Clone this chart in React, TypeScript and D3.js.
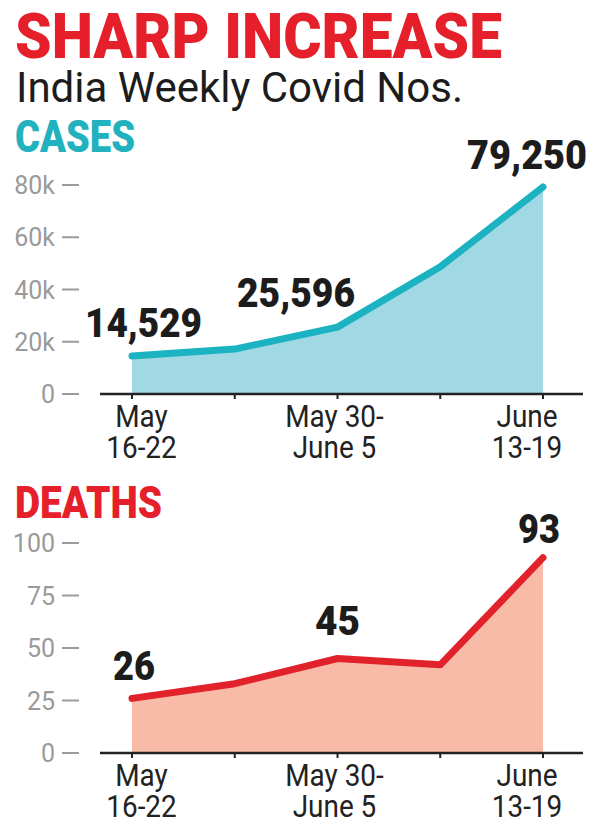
import React from "react";
import * as d3 from "d3";

// ---- data ----
const weeks = ["May 16-22", "May 23-29", "May 30-June 5", "June 6-12", "June 13-19"];
const cases = [14529, 17200, 25596, 48700, 79250];
const deaths = [26, 33, 45, 42, 93];
const caseTicks = [0, 20000, 40000, 60000, 80000];
const caseTickLabels = ["0", "20k", "40k", "60k", "80k"];
const deathTicks = [0, 25, 50, 75, 100];
const deathTickLabels = ["0", "25", "50", "75", "100"];
const xLabelIndex = [0, 2, 4];
const xLabelLines = [["May", "16-22"], ["May 30-", "June 5"], ["June", "13-19"]];
const caseLabels = ["14,529", "25,596", "79,250"];
const caseLabelIndex = [0, 2, 4];
const deathLabels = ["26", "45", "93"];
const deathLabelIndex = [0, 2, 4];

// ---- layout (not data) ----
const W = 600;
const H = 827;
const FONT = "Roboto, 'Noto Sans', sans-serif";
const xLabelDx = [9.5, -3, -16];
const caseLabelOff = [{ dx: 11.5, dy: -19, w: 117 }, { dx: -41.5, dy: -20, w: 118 }, { dx: -16, dy: -18, w: 120 }];
const deathLabelOff = [{ dx: 2, dy: -18, w: 42 }, { dx: 0, dy: -24, w: 45 }, { dx: -4, dy: -15, w: 42 }];

const x = d3.scaleLinear().domain([0, weeks.length - 1]).range([132, 543]);

type PanelProps = {
  values: number[];
  domainMax: number;
  yTop: number;
  yBase: number;
  ticks: number[];
  tickLabels: string[];
  lineColor: string;
  fillColor: string;
  labels: string[];
  labelIndex: number[];
  labelOff: { dx: number; dy: number; w: number }[];
};

function Panel(p: PanelProps) {
  const y = d3.scaleLinear().domain([0, p.domainMax]).range([p.yBase, p.yTop]);
  const idx = p.values.map((_, i) => i);
  const line = d3.line<number>().x((i) => x(i)).y((i) => y(p.values[i]));
  const area = d3
    .area<number>()
    .x((i) => x(i))
    .y0(y(0))
    .y1((i) => y(p.values[i]));
  return (
    <g>
      <path d={area(idx) || ""} fill={p.fillColor} />
      <path
        d={line(idx) || ""}
        fill="none"
        stroke={p.lineColor}
        strokeWidth={7}
        strokeLinecap="round"
        strokeLinejoin="round"
      />
      {/* y ticks */}
      {p.ticks.map((t, i) => (
        <g key={"t" + i}>
          <line x1={62} x2={79} y1={y(t)} y2={y(t)} stroke="#9b9b9b" strokeWidth={2} />
          <text
            x={55}
            y={y(t) + 9}
            textAnchor="end"
            fontFamily={FONT}
            fontSize={25}
            fill="#9a9a9a"
          >
            {p.tickLabels[i]}
          </text>
        </g>
      ))}
      {/* x axis */}
      <line x1={100} x2={583} y1={y(0)} y2={y(0)} stroke="#222" strokeWidth={2.5} />
      {idx.map((i) => (
        <line key={"xt" + i} x1={x(i)} x2={x(i)} y1={y(0)} y2={y(0) + 5} stroke="#222" strokeWidth={2} />
      ))}
      {xLabelIndex.map((wi, k) => (
        <g key={"xl" + k} transform={`translate(${x(wi) + xLabelDx[k]},${y(0)}) scale(0.9,1)`}>
          {xLabelLines[k].map((ln, j) => (
            <text
              key={j}
              x={0}
              y={33 + j * 31}
              textAnchor="middle"
              fontFamily={FONT}
              fontSize={31}
              fill="#222"
            >
              {ln}
            </text>
          ))}
        </g>
      ))}
      {/* value labels */}
      {p.labelIndex.map((wi, k) => (
        <text
          key={"vl" + k}
          x={x(wi) + p.labelOff[k].dx}
          y={y(p.values[wi]) + p.labelOff[k].dy}
          textAnchor="middle"
          fontFamily={FONT}
          fontWeight={900}
          fontSize={40}
          fill="#1c1c1c"
          textLength={p.labelOff[k].w}
          lengthAdjust="spacingAndGlyphs"
        >
          {p.labels[k]}
        </text>
      ))}
    </g>
  );
}

export default function App() {
  return (
    <svg
      width={W}
      height={H}
      viewBox={`0 0 ${W} ${H}`}
      style={{ position: "absolute", left: 0, top: 0, background: "#fff" }}
    >
      <rect width={W} height={H} fill="#fff" />
      <text
        x={15}
        y={58}
        fontFamily={FONT}
        fontWeight={900}
        fontSize={63}
        fill="#e6202b"
        textLength={487}
        lengthAdjust="spacingAndGlyphs"
      >
        SHARP INCREASE
      </text>
      <text
        x={16}
        y={102}
        fontFamily={FONT}
        fontSize={42}
        fill="#1c1c1c"
        textLength={447}
        lengthAdjust="spacingAndGlyphs"
      >
        India Weekly Covid Nos.
      </text>
      <text
        x={15}
        y={152}
        fontFamily={FONT}
        fontWeight={900}
        fontSize={45}
        fill="#22b1bf"
        textLength={120}
        lengthAdjust="spacingAndGlyphs"
      >
        CASES
      </text>
      <Panel
        values={cases}
        domainMax={80000}
        yTop={185}
        yBase={394}
        ticks={caseTicks}
        tickLabels={caseTickLabels}
        lineColor="#1bb2c1"
        fillColor="#a0d9e4"
        labels={caseLabels}
        labelIndex={caseLabelIndex}
        labelOff={caseLabelOff}
      />
      <text
        x={15}
        y={518}
        fontFamily={FONT}
        fontWeight={900}
        fontSize={45}
        fill="#e6202b"
        textLength={147}
        lengthAdjust="spacingAndGlyphs"
      >
        DEATHS
      </text>
      <Panel
        values={deaths}
        domainMax={100}
        yTop={543}
        yBase={753}
        ticks={deathTicks}
        tickLabels={deathTickLabels}
        lineColor="#e2222b"
        fillColor="#f8bba7"
        labels={deathLabels}
        labelIndex={deathLabelIndex}
        labelOff={deathLabelOff}
      />
    </svg>
  );
}
